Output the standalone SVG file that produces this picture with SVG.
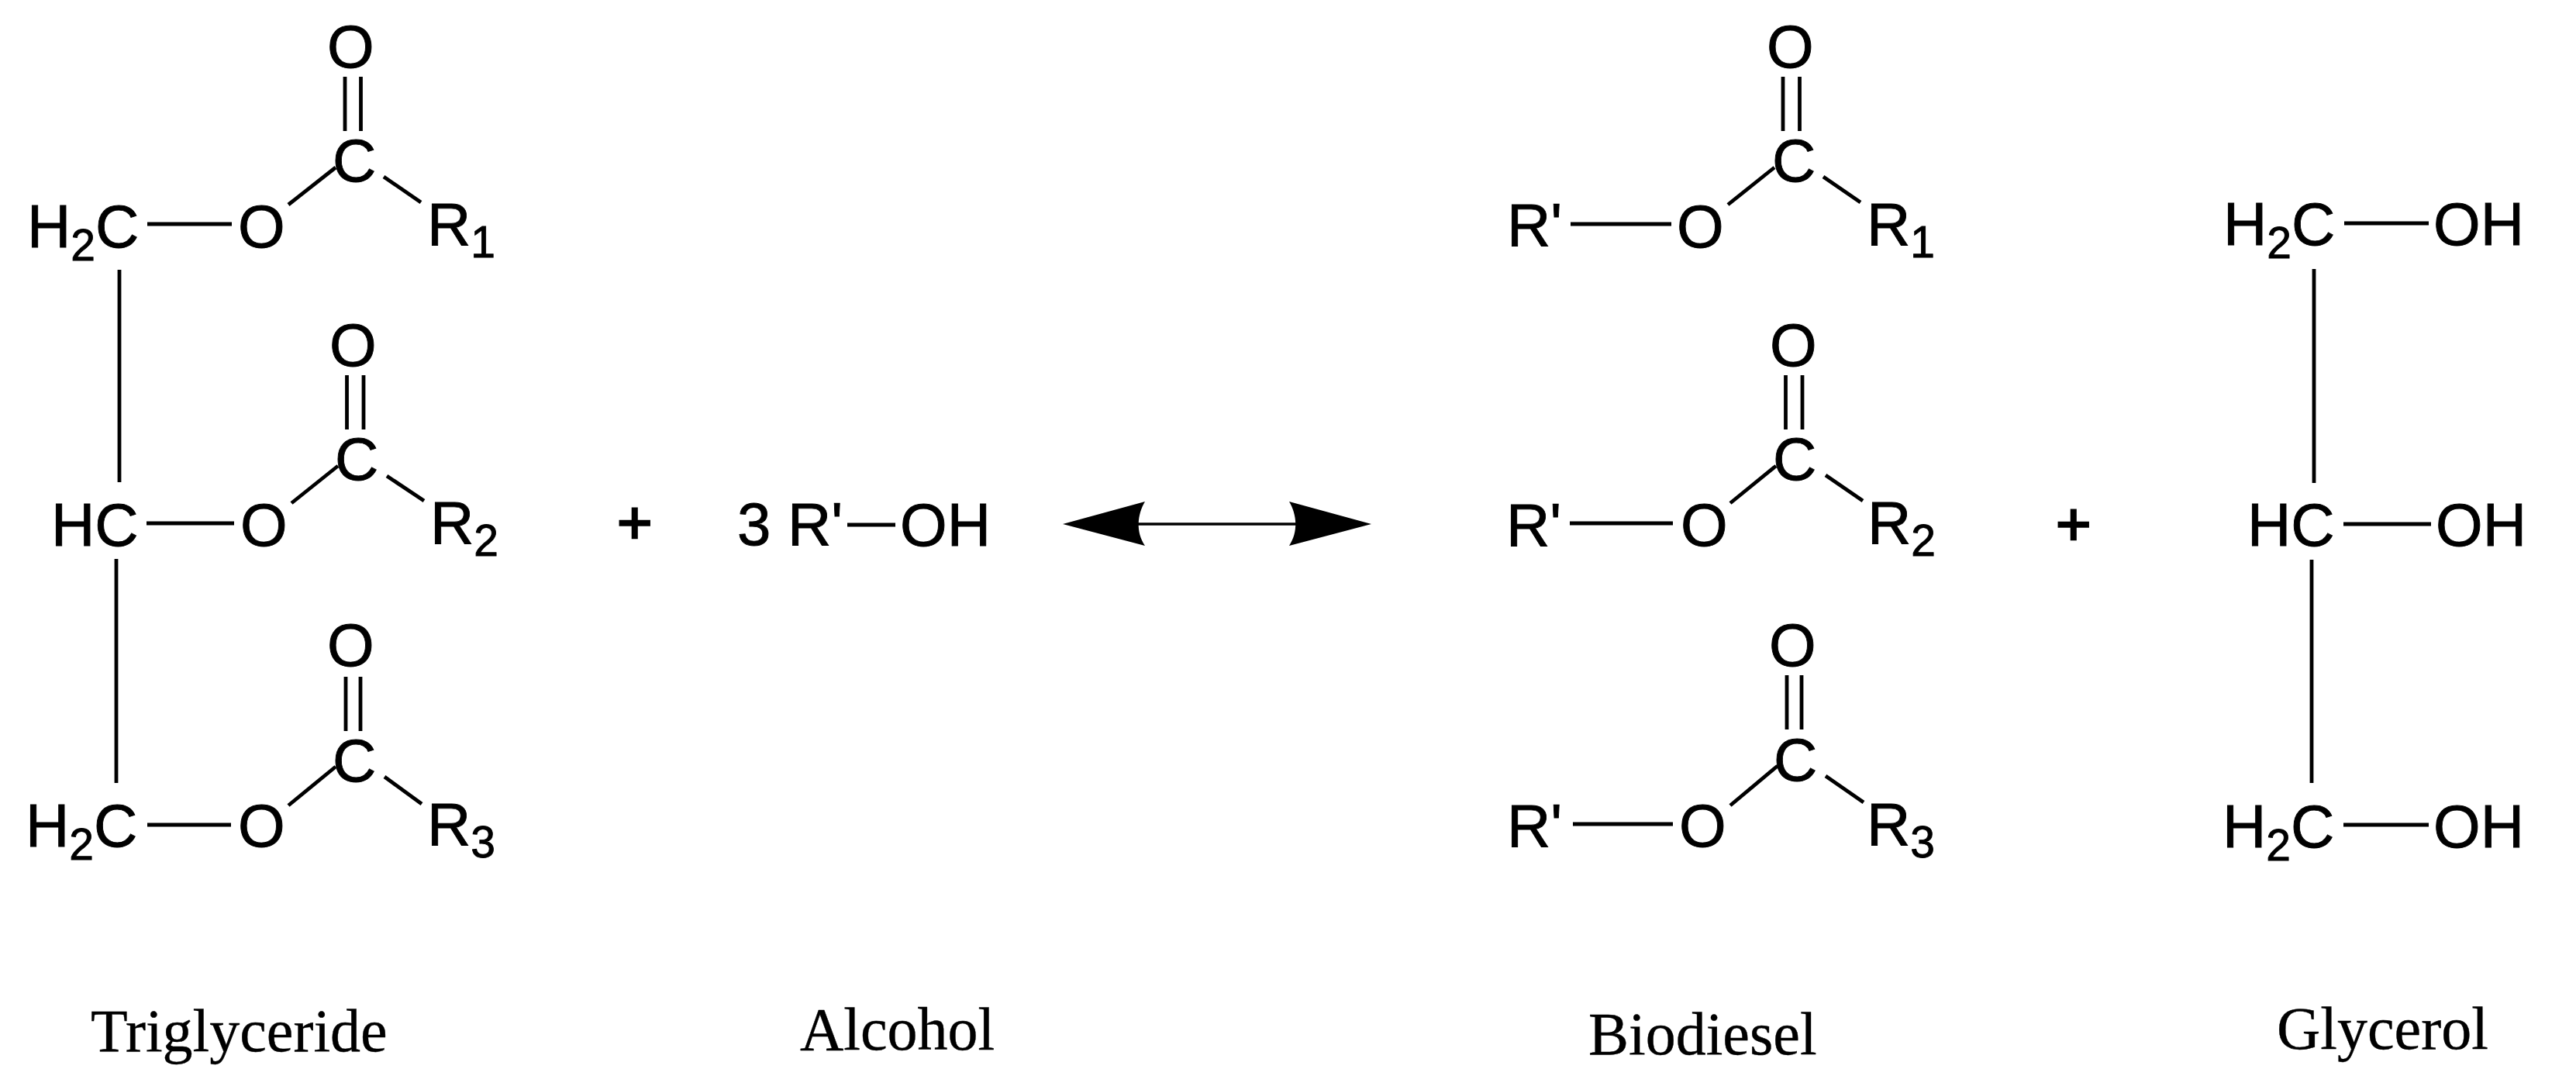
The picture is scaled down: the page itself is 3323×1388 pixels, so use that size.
<svg xmlns="http://www.w3.org/2000/svg" width="3323" height="1388" viewBox="0 0 3323 1388">
<style>
.a{font-family:"Liberation Sans",Arial,sans-serif;font-size:78px;fill:#000;stroke:#000;stroke-width:.9px}
.s{font-size:57px}
.p{stroke-width:2.500px}
.l{font-family:"Liberation Serif","Times New Roman",serif;font-size:78px;fill:#000;stroke:#000;stroke-width:.4px}
.b line{stroke:#000;stroke-width:4.800;fill:none}
</style>
<defs>
<path id="head" d="M0 0L106 -29C96 -12 94 10 106 28Z" fill="#000"/>
</defs>
<rect width="3323" height="1388" fill="#fff"/>
<g id="connectors" class="b">
<line x1="190" y1="289" x2="299" y2="289"/><line x1="372" y1="264" x2="433" y2="216"/><line x1="495" y1="228" x2="543" y2="261"/><line x1="445" y1="99" x2="445" y2="169"/><line x1="465.500" y1="99" x2="465.500" y2="169"/>
<line x1="154" y1="348" x2="154" y2="622"/>
<line x1="189" y1="675" x2="302" y2="675"/><line x1="376" y1="649" x2="436" y2="601"/><line x1="499" y1="614" x2="547" y2="646"/><line x1="447.500" y1="484" x2="447.500" y2="554"/><line x1="469" y1="484" x2="469" y2="554"/>
<line x1="150" y1="721" x2="150" y2="1010"/>
<line x1="190" y1="1064" x2="298" y2="1064"/><line x1="372" y1="1039" x2="433" y2="989"/><line x1="496" y1="1002" x2="544" y2="1037"/><line x1="446" y1="873" x2="446" y2="943"/><line x1="465" y1="873" x2="465" y2="943"/>
<line x1="1093" y1="677" x2="1155" y2="677"/>
<line x1="2026" y1="289" x2="2156" y2="289"/><line x1="2229" y1="264" x2="2289" y2="216"/><line x1="2352" y1="228" x2="2400" y2="261"/><line x1="2300" y1="99" x2="2300" y2="169"/><line x1="2321.500" y1="99" x2="2321.500" y2="169"/>
<line x1="2025" y1="675" x2="2158" y2="675"/><line x1="2232" y1="649" x2="2291" y2="601"/><line x1="2355" y1="613" x2="2403" y2="646"/><line x1="2303.500" y1="484" x2="2303.500" y2="554"/><line x1="2325" y1="484" x2="2325" y2="554"/>
<line x1="2029" y1="1063" x2="2158" y2="1063"/><line x1="2232" y1="1039" x2="2293" y2="988"/><line x1="2355" y1="1001" x2="2404" y2="1035"/><line x1="2305" y1="871" x2="2305" y2="941"/><line x1="2324" y1="871" x2="2324" y2="941"/>
<line x1="3024" y1="288" x2="3133" y2="288"/><line x1="2985" y1="347" x2="2985" y2="623"/>
<line x1="3023" y1="676" x2="3136" y2="676"/><line x1="2982" y1="722" x2="2982" y2="1010"/>
<line x1="3023" y1="1064" x2="3133" y2="1064"/>
<line x1="1465" y1="676" x2="1677" y2="676" style="stroke-width:3.500"/>
<use href="#head" x="1371" y="676"/>
<use href="#head" transform="translate(1769 676) scale(-1 1)"/>
</g>
<g id="triglyceride">
<g id="t-o1"><text class="a" x="422" y="87">O</text></g>
<g id="t-c1"><text class="a" x="429" y="234">C</text></g>
<g id="t-h2c1"><text class="a" x="35" y="319">H<tspan class="s" dy="17">2</tspan><tspan dy="-17">C</tspan></text></g>
<g id="t-o1b"><text class="a" x="307" y="319">O</text></g>
<g id="t-r1"><text class="a" x="551" y="316">R<tspan class="s" dy="16">1</tspan></text></g>
<g id="t-o2"><text class="a" x="425" y="472">O</text></g>
<g id="t-c2"><text class="a" x="432" y="619">C</text></g>
<g id="t-hc"><text class="a" x="66" y="704">HC</text></g>
<g id="t-o2b"><text class="a" x="310" y="704">O</text></g>
<g id="t-r2"><text class="a" x="555" y="701">R<tspan class="s" dy="16">2</tspan></text></g>
<g id="t-o3"><text class="a" x="422" y="859">O</text></g>
<g id="t-c3"><text class="a" x="429" y="1008">C</text></g>
<g id="t-h2c3"><text class="a" x="33" y="1092">H<tspan class="s" dy="17">2</tspan><tspan dy="-17">C</tspan></text></g>
<g id="t-o3b"><text class="a" x="307" y="1092">O</text></g>
<g id="t-r3"><text class="a" x="551" y="1090">R<tspan class="s" dy="16">3</tspan></text></g>
</g>
<g id="plus1"><text class="a p" x="796" y="701">+</text></g>
<g id="alcohol">
<text class="a" x="951" y="703">3</text>
<text class="a" x="1016" y="703">R'</text>
<text class="a" x="1161" y="704">OH</text>
</g>
<g id="biodiesel">
<g id="b-o1"><text class="a" x="2279" y="87">O</text></g>
<g id="b-c1"><text class="a" x="2286" y="234">C</text></g>
<g id="b-r1p"><text class="a" x="1944" y="317">R'</text></g>
<g id="b-o1b"><text class="a" x="2163" y="319">O</text></g>
<g id="b-r1"><text class="a" x="2408" y="316">R<tspan class="s" dy="16">1</tspan></text></g>
<g id="b-o2"><text class="a" x="2283" y="472">O</text></g>
<g id="b-c2"><text class="a" x="2287" y="619">C</text></g>
<g id="b-r2p"><text class="a" x="1943" y="704">R'</text></g>
<g id="b-o2b"><text class="a" x="2168" y="704">O</text></g>
<g id="b-r2"><text class="a" x="2409" y="701">R<tspan class="s" dy="16">2</tspan></text></g>
<g id="b-o3"><text class="a" x="2282" y="859">O</text></g>
<g id="b-c3"><text class="a" x="2288" y="1007">C</text></g>
<g id="b-r3p"><text class="a" x="1944" y="1092">R'</text></g>
<g id="b-o3b"><text class="a" x="2166" y="1092">O</text></g>
<g id="b-r3"><text class="a" x="2408" y="1090">R<tspan class="s" dy="16">3</tspan></text></g>
</g>
<g id="plus2"><text class="a p" x="2652" y="703">+</text></g>
<g id="glycerol">
<g id="g-h2c1"><text class="a" x="2868" y="316">H<tspan class="s" dy="17">2</tspan><tspan dy="-17">C</tspan></text></g>
<g id="g-oh1"><text class="a" x="3139" y="316">OH</text></g>
<g id="g-hc"><text class="a" x="2899" y="704">HC</text></g>
<g id="g-oh2"><text class="a" x="3142" y="704">OH</text></g>
<g id="g-h2c3"><text class="a" x="2867" y="1093">H<tspan class="s" dy="17">2</tspan><tspan dy="-17">C</tspan></text></g>
<g id="g-oh3"><text class="a" x="3139" y="1093">OH</text></g>
</g>
<g id="labels">
<text class="l" x="117" y="1356">Triglyceride</text>
<text class="l" x="1032" y="1354">Alcohol</text>
<text class="l" x="2049" y="1360">Biodiesel</text>
<text class="l" x="2937" y="1353">Glycerol</text>
</g>
</svg>
